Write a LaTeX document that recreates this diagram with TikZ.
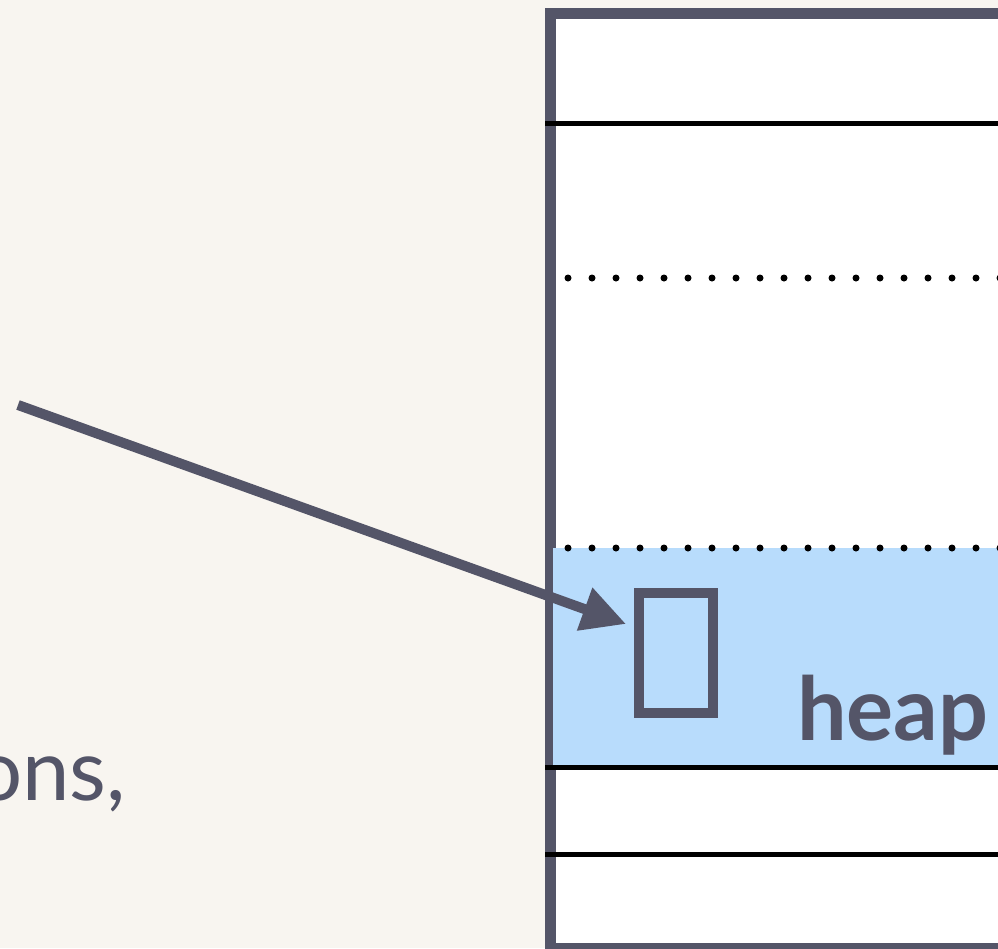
\documentclass[tikz,border=0pt]{standalone}
\usepackage{fontspec}
\setmainfont{Lato}
\usetikzlibrary{arrows.meta}
\definecolor{bg}{HTML}{F8F5F0}
\definecolor{slate}{HTML}{545568}
\definecolor{heapblue}{HTML}{B8DCFC}
\tikzset{
  frame/.style={draw=slate, line width=11pt, fill=white},
  sep/.style={draw=black, line width=5pt},
  dotsep/.style={draw=black, line width=7pt, line cap=round, dash pattern=on 0pt off 24pt},
  arr/.style={draw=slate, line width=10pt, -{Triangle[length=44pt,width=43pt]}},
  cellbox/.style={draw=slate, line width=10pt, minimum width=74pt, minimum height=120pt, inner sep=0pt},
  lbl/.style={text=slate, inner sep=0pt}
}
\begin{document}
\begin{tikzpicture}[x=1pt,y=-1pt]
\useasboundingbox (0,0) rectangle (998,948);
\clip (0,0) rectangle (998,948);
\fill[bg] (0,0) rectangle (998,948);
% memory frame
\draw[frame] (550.5,13.5) rectangle (1020,948);
% heap region
\fill[heapblue] (553,548) rectangle (1020,767.5);
% separators
\draw[sep] (545,123) -- (1020,123);
\draw[sep] (545,767.5) -- (1020,767.5);
\draw[sep] (545,854) -- (1020,854);
\draw[dotsep] (568,278) -- (1020,278);
\draw[dotsep] (568,548) -- (1020,548);
% heap cell and label
\node[cellbox] (cell) at (676,653) {};
\node[lbl, anchor=base west, font=\fontsize{88}{88}\selectfont\bfseries] (heap) at (797,740) {heap};
\node[lbl, anchor=base east, font=\fontsize{85}{85}\selectfont] (ons) at (126,800) {ons,};
% arrow
\coordinate (src) at (18,405);
\coordinate (tip) at (626,624);
\draw[arr] (src) -- (tip);
\end{tikzpicture}
\end{document}
